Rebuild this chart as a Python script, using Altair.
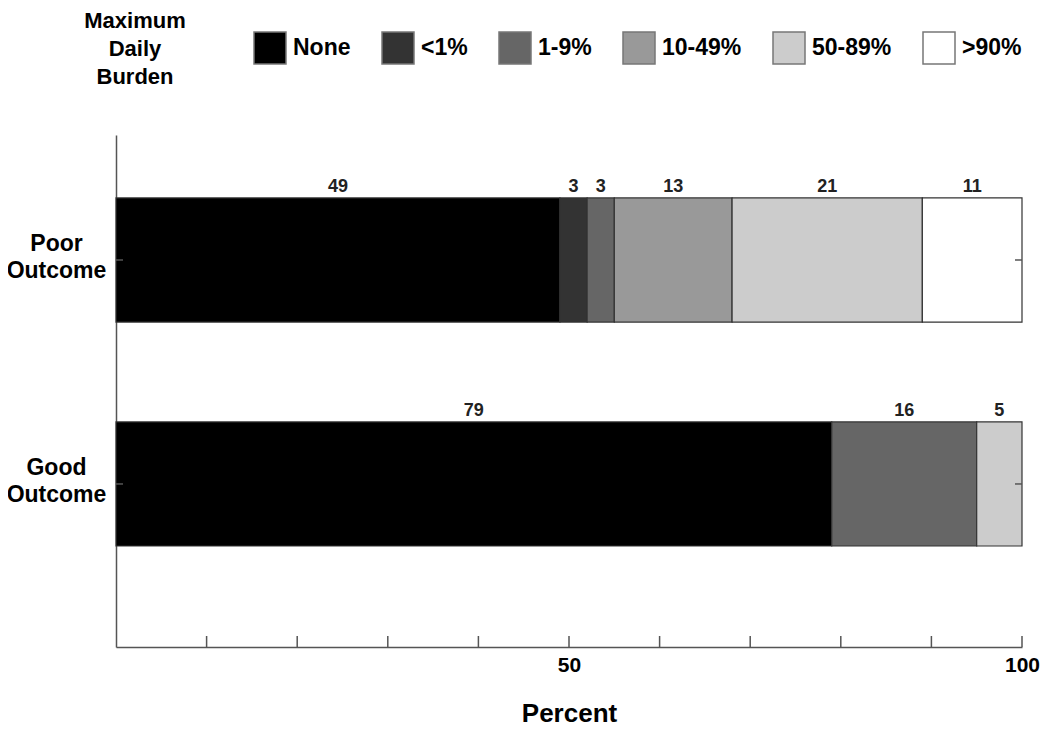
import altair as alt
import pandas as pd

outcomes = ["Poor Outcome", "Good Outcome"]
burden_levels = ["None", "<1%", "1-9%", "10-49%", "50-89%", ">90%"]
burden_colors = ["#000000", "#333333", "#666666", "#999999", "#cccccc", "#ffffff"]
poor_burden = ["None", "<1%", "1-9%", "10-49%", "50-89%", ">90%"]
poor_pct = [49, 3, 3, 13, 21, 11]
good_burden = ["None", "1-9%", "50-89%"]
good_pct = [79, 16, 5]
x_tick_values = [10, 20, 30, 40, 50, 60, 70, 80, 90, 100]
x_label_values = [50, 100]
legend_title = ["Maximum", "Daily", "Burden"]

rows = []
for o, bs, ps in [(outcomes[0], poor_burden, poor_pct), (outcomes[1], good_burden, good_pct)]:
    for b, p in zip(bs, ps):
        rows.append({"outcome": o, "burden": b, "pct": p, "order": burden_levels.index(b)})
df = pd.DataFrame(rows)
cat_df = pd.DataFrame({"outcome": outcomes})
tick_df = pd.DataFrame({"x0": x_tick_values})
one_df = pd.DataFrame({"k": [0]})

FONT = "Liberation Sans"
W, H = 906, 512

xscale = alt.Scale(domain=[0, 100], nice=False, zero=True)
yscale = alt.Scale(domain=outcomes, paddingInner=0.446, paddingOuter=0.366, align=0.384)

xaxis = alt.Axis(values=x_label_values, title="Percent", ticks=False, grid=False,
                 domainColor="#555555", domainWidth=1.5,
                 labelFont=FONT, labelFontSize=21, labelFontWeight="bold", labelColor="#000000",
                 labelPadding=7, labelFlush=False, labelOverlap=False,
                 titleFont=FONT, titleFontSize=26, titleFontWeight="bold", titleColor="#000000",
                 titlePadding=25)
yaxis = alt.Axis(title=None, ticks=False, tickSize=0, grid=False,
                 domainColor="#555555", domainWidth=1.5,
                 labelExpr="split(datum.label, ' ')", labelAlign="center", labelBaseline="middle",
                 labelPadding=60, labelOffset=-16, labelFont=FONT, labelFontSize=23,
                 labelFontWeight="bold", labelColor="#000000", labelLineHeight=27)

base = alt.Chart(df).transform_stack(
    stack="pct", as_=["x0", "x1"], groupby=["outcome"],
    sort=[alt.SortField("order", order="ascending")]
).transform_calculate(mid="(datum.x0 + datum.x1) / 2")

bars = base.mark_bar(stroke="#333333", strokeWidth=1.2, opacity=1).encode(
    x=alt.X("x0:Q", scale=xscale, axis=xaxis),
    x2="x1:Q",
    y=alt.Y("outcome:N", scale=yscale, axis=yaxis),
    color=alt.Color("burden:N", scale=alt.Scale(domain=burden_levels, range=burden_colors),
                    legend=alt.Legend(
                        title=None, orient="none", padding=0,
                        legendX=253 - 116, legendY=31 - 135, direction="horizontal",
                        symbolType="square", symbolSize=1024, symbolStrokeColor="#777777",
                        symbolStrokeWidth=1.5, symbolOpacity=1,
                        labelFont=FONT, labelFontSize=23, labelFontWeight="bold",
                        labelColor="#000000", labelOffset=6, columnPadding=28)),
)

legend_title_mark = alt.Chart(one_df).mark_text(
    text=legend_title, font=FONT, fontSize=22, fontWeight="bold", color="#000000",
    align="center", baseline="middle", lineHeight=28,
).encode(x=alt.value(135 - 116), y=alt.value(21 - 135))

labels = base.mark_text(font=FONT, fontSize=18, fontWeight="bold", baseline="alphabetic",
                        dy=-6, color="#222222").encode(
    x=alt.X("mid:Q", scale=xscale, axis=xaxis),
    y=alt.Y("outcome:N", scale=yscale, axis=yaxis, bandPosition=0),
    text=alt.Text("pct:Q"),
)

left_ticks = alt.Chart(cat_df).mark_rule(color="#555555", strokeWidth=1.5).encode(
    y=alt.Y("outcome:N", scale=yscale, axis=yaxis, bandPosition=0.5),
    x=alt.value(0), x2=alt.value(7),
)
right_ticks = alt.Chart(cat_df).mark_rule(color="#555555", strokeWidth=1.5).encode(
    y=alt.Y("outcome:N", scale=yscale, axis=yaxis, bandPosition=0.5),
    x=alt.value(W - 7), x2=alt.value(W),
)
x_ticks = alt.Chart(tick_df).mark_rule(color="#555555", strokeWidth=1.5).encode(
    x=alt.X("x0:Q", scale=xscale, axis=xaxis),
    y=alt.value(H - 11), y2=alt.value(H),
)

chart = alt.layer(bars, labels, left_ticks, right_ticks, x_ticks, legend_title_mark).properties(
    width=W, height=H, autosize="none", background="#ffffff",
    padding={"left": 108, "top": 127, "right": 20, "bottom": 80},
).configure_view(stroke="transparent", strokeWidth=0)

chart.save("out.html", embed_options={"renderer": "svg", "actions": False})
